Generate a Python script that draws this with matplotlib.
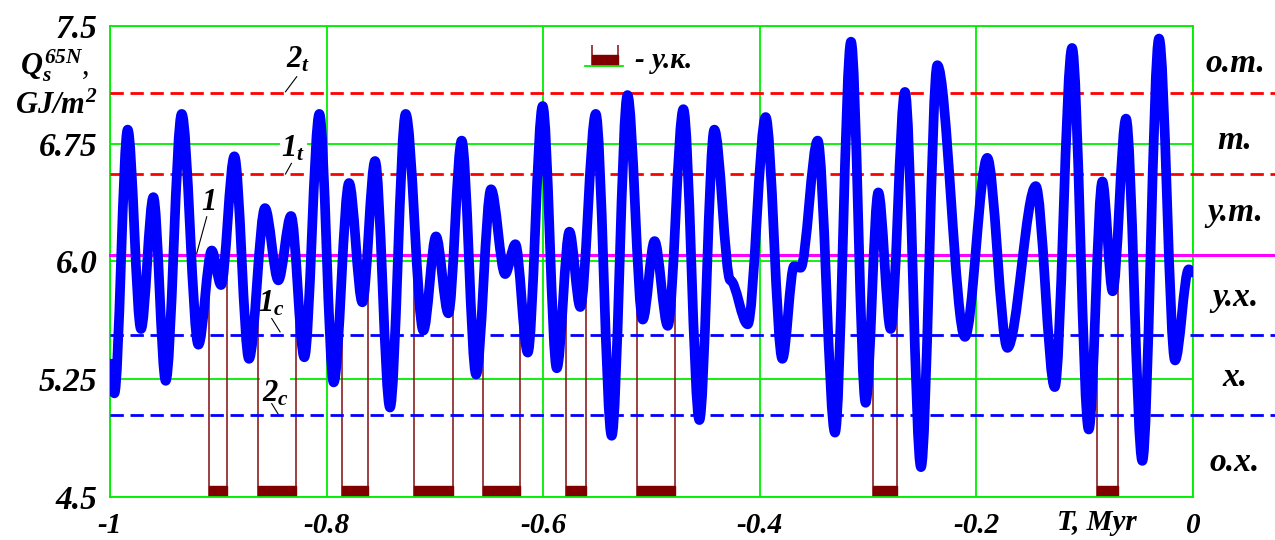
import numpy as np
import matplotlib.pyplot as plt
import matplotlib.transforms as mtransforms
from matplotlib.patches import Rectangle, PathPatch
from matplotlib.path import Path

plt.rcParams['font.family'] = 'Liberation Serif'
plt.rcParams['mathtext.fontset'] = 'custom'
plt.rcParams['mathtext.it'] = 'Liberation Serif:italic:bold'
plt.rcParams['mathtext.rm'] = 'Liberation Serif:italic:bold'
plt.rcParams['mathtext.bf'] = 'Liberation Serif:italic:bold'

# Время (млн лет) и инсоляция летнего полугодия на 65N (ГДж/м2) - экстремумы кривой
T = [-1.000, -0.996, -0.9837, -0.9714, -0.960, -0.9486, -0.9338, -0.9184, -0.9061, -0.8975,
     -0.8852, -0.8717, -0.8569, -0.8446, -0.8329, -0.8206, -0.8067, -0.7935, -0.7793, -0.767,
     -0.7553, -0.7415, -0.727, -0.7107, -0.699, -0.6876, -0.6753, -0.662, -0.6482, -0.6352,
     -0.6257, -0.6143, -0.6005, -0.5875, -0.5758, -0.5658, -0.5515, -0.5368, -0.5222, -0.5081,
     -0.4972, -0.485, -0.4706, -0.4558, -0.442, -0.4272, -0.4112, -0.3946, -0.3792,
     -0.3684, -0.3623, -0.3466, -0.3306, -0.3158, -0.3023, -0.2906, -0.2792, -0.266, -0.2512,
     -0.2361, -0.2106, -0.19, -0.1714, -0.1452, -0.1277, -0.1117, -0.0963, -0.0837,
     -0.0742, -0.0619, -0.0468, -0.0314, -0.0166, -0.004, 0.0]
Q = [5.35, 5.16, 6.84, 5.57, 6.41, 5.24, 6.94, 5.47, 6.07, 5.85,
     6.67, 5.38, 6.34, 5.88, 6.29, 5.39, 6.94, 5.23, 6.50, 5.74,
     6.64, 5.07, 6.94, 5.56, 6.16, 5.67, 6.77, 5.28, 6.46, 5.92,
     6.11, 5.42, 6.99, 5.32, 6.19, 5.71, 6.94, 4.89, 7.06, 5.63,
     6.13, 5.59, 6.97, 4.99, 6.84, 5.88, 5.60, 6.92, 5.38,
     5.97, 5.96, 6.77, 4.91, 7.40, 5.10, 6.44, 5.57, 7.08, 4.69,
     7.25, 5.52, 6.66, 5.45, 6.48, 5.20, 7.36, 4.93, 6.51,
     5.81, 6.91, 4.73, 7.42, 5.37, 5.95, 5.93]

# уровни
lvl_2t = 7.07
lvl_1t = 6.555
lvl_norm = 6.04
lvl_1c = 5.53
lvl_2c = 5.025

# умеренно холодные периоды (у.к.)
cold_start = [-0.9083, -0.8636, -0.7858, -0.719, -0.6553, -0.5792, -0.5134, -0.2952, -0.0889]
cold_end = [-0.8917, -0.8283, -0.7618, -0.683, -0.6214, -0.5602, -0.4786, -0.2736, -0.0693]

zone_labels = ['о.т.', 'т.', 'у.т.', 'у.х.', 'х.', 'о.х.']
zone_y = [7.26, 6.77, 6.31, 5.77, 5.26, 4.72]

xticks = [-1, -0.8, -0.6, -0.4, -0.2, 0]
xtick_labels = ['-1', '-0.8', '-0.6', '-0.4', '-0.2', '0']
yticks = [4.5, 5.25, 6.0, 6.75, 7.5]
ytick_labels = ['4.5', '5.25', '6.0', '6.75', '7.5']

green = '#00ee00'
fig = plt.figure(figsize=(12.75, 5.4), dpi=100)
ax = fig.add_axes([0.0863, 0.0796, 0.8494, 0.8723])
ax.set_xlim(-1, 0)
ax.set_ylim(4.5, 7.5)
ax.set_xticks(xticks)
ax.set_xticklabels(xtick_labels)
ax.set_yticks(yticks)
ax.set_yticklabels(ytick_labels)
ax.tick_params(length=0)
ax.tick_params(axis='y', pad=9, labelsize=24)
ax.tick_params(axis='x', pad=11, labelsize=21)
for lab in ax.get_xticklabels() + ax.get_yticklabels():
    lab.set_fontweight('bold')
    lab.set_fontstyle('italic')
ax.grid(color=green, lw=1.3)
ax.set_axisbelow(True)
for s in ax.spines.values():
    s.set_color(green)
    s.set_linewidth(1.3)

xr = 0.0757  # линии уходят за правый край осей
for y in [lvl_2t, lvl_1t]:
    ax.plot([-1, xr], [y, y], color='red', lw=2, dashes=(4.8, 2.4), clip_on=False, zorder=3)
for y in [lvl_1c, lvl_2c]:
    ax.plot([-1, xr], [y, y], color='blue', lw=2, dashes=(4.8, 2.4), clip_on=False, zorder=3)
ax.plot([-1, xr], [lvl_norm, lvl_norm], color='#ff00ff', lw=2.2, clip_on=False, zorder=3)

for a, b in zip(cold_start, cold_end):
    ax.vlines([a, b], 4.5, lvl_norm, color='#8b2020', lw=1.2, zorder=2)
    ax.add_patch(Rectangle((a, 4.5), b - a, 0.07, color='#800000', zorder=2))

# кривая инсоляции: плавные дуги между экстремумами (горизонтальные касательные)
verts = [(T[0], Q[0])]
codes = [Path.MOVETO]
for i in range(len(T) - 1):
    dt = (T[i + 1] - T[i]) / 3
    verts += [(T[i] + dt, Q[i]), (T[i + 1] - dt, Q[i + 1]), (T[i + 1], Q[i + 1])]
    codes += [Path.CURVE4] * 3
ax.add_patch(PathPatch(Path(verts, codes), facecolor='none', edgecolor='blue', lw=7,
                       capstyle='round', joinstyle='round', zorder=4))

# подписи зон справа
for lab, y in zip(zone_labels, zone_y):
    ax.text(0.0388, y, lab, fontsize=24, fontweight='bold', fontstyle='italic',
            ha='center', va='center', clip_on=False)

# подписи линий
fs = 22
ax.text(-0.8264, 7.283, r'$2_t$', fontsize=fs, ha='center', va='center', zorder=5)
ax.plot([-0.8276, -0.838], [7.177, 7.081], color='black', lw=0.8, zorder=5)
ax.text(-0.8307, 6.72, r'$1_t$', fontsize=fs, ha='center', va='center', zorder=5,
        bbox=dict(facecolor='white', edgecolor='none', pad=1))
ax.plot([-0.8325, -0.838], [6.625, 6.557], color='black', lw=0.8, zorder=5)
ax.text(-0.9086, 6.374, '1', fontsize=fs, fontweight='bold', fontstyle='italic',
        ha='center', va='center', zorder=5)
ax.plot([-0.9107, -0.92], [6.285, 6.051], color='black', lw=0.8, zorder=5)
ax.text(-0.8507, 5.733, r'$1_c$', fontsize=fs, ha='center', va='center', zorder=5)
ax.plot([-0.8507, -0.843], [5.637, 5.552], color='black', lw=0.8, zorder=5)
ax.text(-0.8476, 5.159, r'$2_c$', fontsize=fs, ha='center', va='center', zorder=5,
        bbox=dict(facecolor='white', edgecolor='none', pad=1))
ax.plot([-0.8507, -0.845], [5.095, 5.031], color='black', lw=0.8, zorder=5)

# условное обозначение
ax.vlines([-0.555, -0.531], 7.251, 7.379, color='#8b2020', lw=1.2, zorder=5)
ax.add_patch(Rectangle((-0.555, 7.251), 0.024, 0.064, color='#800000', zorder=5))
ax.plot([-0.5614, -0.5263], [7.245, 7.245], color=green, lw=1.3, zorder=5)
ax.text(-0.5152, 7.283, '- у.к.', fontsize=21, fontweight='bold', fontstyle='italic',
        ha='left', va='center', zorder=5)

trans = mtransforms.blended_transform_factory(ax.transData, ax.transAxes)
ax.text(-0.089, -0.055, 'T, Myr', fontsize=21, fontweight='bold', fontstyle='italic',
        ha='center', va='center', transform=trans, clip_on=False)

fig.text(0.043, 0.878, r'$Q_s^{65N}$,', fontsize=22, ha='center', va='center')
fig.text(0.044, 0.803, r'$GJ/m^2$', fontsize=22, ha='center', va='center')

fig.savefig('out.png', dpi=100)
